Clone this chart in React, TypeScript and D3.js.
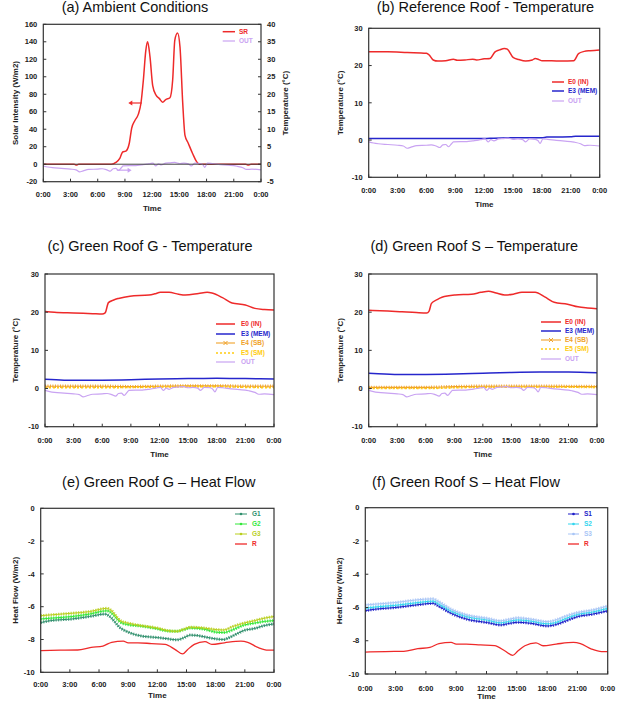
import React from "react";
import * as d3 from "d3";

// ── Data: [hour of day, value] ───────────────────────────────────────────────

type Pt = [number, number];

const TIME_TICKS = [0, 3, 6, 9, 12, 15, 18, 21, 24];
const TIME_LABELS = ["0:00", "3:00", "6:00", "9:00", "12:00", "15:00", "18:00", "21:00", "0:00"];

const SR_TICKS = [-20, 0, 20, 40, 60, 80, 100, 120, 140, 160];
const AMB_T_TICKS = [-5, 0, 5, 10, 15, 20, 25, 30, 35, 40];
const TEMP_TICKS = [-10, 0, 10, 20, 30];
const FLOW_TICKS = [-10, -8, -6, -4, -2, 0];

// solar radiation (W/m2)
const SR: Pt[] = [
  [0, 0], [3.4, 0], [3.65, -1], [3.9, 0], [7.5, 0], [8.0, 2], [8.45, 7], [8.75, 14],
  [9.1, 15], [9.48, 24], [9.74, 41], [10.1, 50], [10.47, 57], [10.77, 70], [11.03, 96],
  [11.3, 130], [11.5, 140], [11.76, 123], [12.06, 90], [12.43, 79], [12.8, 75], [13.16, 71],
  [13.5, 74], [13.96, 76], [14.26, 96], [14.5, 142], [14.8, 150], [15.07, 134], [15.37, 70],
  [15.62, 33], [15.98, 24], [16.47, 12], [16.9, 3], [17.2, 0], [22.3, 0], [22.6, -1],
  [22.9, 0], [24, 0],
];

// outdoor temperature (°C)
const OUT: Pt[] = [
  [0, -0.5], [0.5, -0.8], [1, -1.0], [2, -1.2], [3, -1.4], [3.6, -1.6], [4.0, -2.2],
  [4.4, -1.9], [5, -1.5], [6, -1.4], [6.5, -1.3], [7, -1.6], [7.4, -2.0], [7.7, -1.3],
  [8.0, -1.2], [8.3, -1.8], [8.6, -1.0], [8.8, -0.5], [9.5, -0.4], [10.2, -0.4],
  [10.8, -0.2], [11.4, 0], [11.8, 0.2], [12.1, 0.3], [12.4, -0.5], [12.7, 0.1],
  [13.0, -0.2], [13.5, 0.3], [14, 0.4], [14.5, 0.5], [15, 0.2], [15.5, 0.3], [16, 0.1],
  [16.3, -0.5], [16.7, 0.3], [17.3, 0.2], [17.6, -0.2], [17.8, -0.9], [18.1, 0.3],
  [18.6, 0.2], [19.5, -0.1], [20.4, -0.3], [21.0, -0.4], [21.4, -0.6], [22.0, -1.0],
  [22.4, -1.5], [23, -1.4], [24, -1.6],
];

// reference roof
const REF_E0: Pt[] = [
  [0, 23.7], [2, 23.7], [4, 23.5], [6, 23.3], [6.3, 22.8], [6.7, 21.5], [7.2, 21.2],
  [8, 21.3], [8.8, 21.7], [9.2, 21.4], [10, 21.5], [10.8, 21.7], [11.2, 21.5], [12, 21.8],
  [12.6, 21.9], [13.1, 23.6], [13.6, 24.2], [14.1, 24.6], [14.4, 24.4], [15, 22.2],
  [15.6, 21.6], [16.3, 21.2], [17, 21.5], [17.3, 21.9], [17.7, 21.6], [18, 21.3],
  [19, 21.3], [20, 21.2], [21.3, 21.3], [21.8, 23.2], [22.4, 23.8], [23, 24.0], [24, 24.2],
];
const REF_E3: Pt[] = [
  [0, 0.4], [6, 0.4], [12, 0.4], [13, 0.5], [15, 0.6], [18, 0.6], [18.5, 0.8], [21, 0.9],
  [21.5, 1.0], [24, 1.0],
];

// green roof G
const G_E0: Pt[] = [
  [0, 20.2], [1, 20.0], [3, 19.8], [5, 19.6], [6.0, 19.5], [6.3, 19.8], [6.65, 22.5],
  [7.2, 23.2], [7.7, 23.6], [8.9, 24.2], [10.9, 24.5], [11.5, 24.8], [12.1, 25.2],
  [13.0, 25.2], [14, 24.7], [14.7, 24.5], [16.1, 24.9], [17.0, 25.2], [17.5, 25.0],
  [18.6, 23.8], [19.6, 22.4], [21.0, 21.9], [22, 21.0], [23, 20.7], [24, 20.6],
];
const G_E3: Pt[] = [[0, 2.4], [2, 2.2], [6, 2.2], [9, 2.3], [12, 2.5], [15, 2.6], [18, 2.7], [21, 2.6], [24, 2.5]];
const G_E4: Pt[] = [[0, 0.6], [6, 0.6], [9, 0.5], [12, 0.6], [15, 0.7], [18, 0.7], [21, 0.6], [24, 0.6]];
const G_E5: Pt[] = [[0, 0.2], [6, 0.2], [9, 0.3], [12, 0.4], [15, 0.5], [18, 0.5], [21, 0.3], [24, 0.2]];

// green roof S
const S_E0: Pt[] = [
  [0, 20.5], [2, 20.3], [3.5, 20.1], [5, 19.9], [6.1, 19.8], [6.35, 20.3], [6.6, 22.3],
  [7.2, 23.3], [7.7, 23.9], [9.1, 24.5], [10.8, 24.7], [11.8, 25.2], [12.6, 25.5],
  [13.4, 25.0], [14.3, 24.5], [15.2, 24.7], [16.1, 25.2], [17.5, 25.2], [18.5, 24.0],
  [19.5, 22.6], [20.9, 22.1], [22, 21.4], [23, 21.1], [24, 20.9],
];
const S_E3: Pt[] = [[0, 4.0], [1, 3.9], [3.5, 3.7], [6, 3.7], [9, 3.8], [12, 4.0], [15, 4.2], [18, 4.3], [21, 4.3], [24, 4.1]];
const S_E4: Pt[] = [[0, 0.3], [6, 0.3], [9, 0.5], [12, 0.6], [18, 0.6], [24, 0.5]];
const S_E5: Pt[] = [[0, 0.0], [6, 0.0], [9, 0.2], [12, 0.3], [18, 0.4], [24, 0.3]];

// heat flow (W/m2)
const R_FLOW: Pt[] = [
  [0, -8.68], [2, -8.65], [3.8, -8.64], [5.2, -8.48], [6.4, -8.4], [7.3, -8.17], [8.5, -8.1],
  [9.0, -8.2], [10, -8.2], [11.4, -8.25], [12.8, -8.3], [13.8, -8.6], [14.6, -8.88],
  [15.1, -8.62], [15.8, -8.3], [16.9, -8.13], [17.6, -8.3], [18.9, -8.2], [20.6, -8.1],
  [21.3, -8.17], [22.4, -8.5], [23.4, -8.65], [24, -8.65],
];
const G1: Pt[] = [
  [0, -6.97], [1, -6.85], [3.2, -6.75], [5, -6.6], [6.6, -6.45], [7.0, -6.55], [8.2, -7.3],
  [9.0, -7.55], [10.3, -7.78], [12, -7.88], [13, -7.95], [14, -8.02], [14.7, -7.9],
  [15.4, -7.73], [16.0, -7.75], [16.8, -7.83], [18.1, -7.97], [18.8, -8.0], [19.5, -7.85],
  [20.3, -7.62], [20.9, -7.45], [22, -7.33], [23, -7.15], [24, -7.05],
];
const G2: Pt[] = [
  [0, -6.75], [1, -6.7], [3.2, -6.6], [5, -6.45], [6.8, -6.25], [7.2, -6.35], [8.2, -6.95],
  [9, -7.1], [10.3, -7.18], [12, -7.35], [13, -7.48], [14, -7.5], [14.7, -7.4], [15.4, -7.3],
  [16.8, -7.37], [18.1, -7.56], [18.8, -7.58], [19.8, -7.4], [20.9, -7.12], [22, -7.0],
  [23, -6.9], [24, -6.85],
];
const G3: Pt[] = [
  [0, -6.55], [1, -6.5], [3.2, -6.4], [5, -6.3], [6.8, -6.1], [7.2, -6.2], [8.2, -6.85],
  [9, -7.0], [10.3, -7.15], [12, -7.3], [13, -7.45], [14, -7.5], [14.7, -7.38], [15.4, -7.25],
  [16.8, -7.3], [18.1, -7.4], [18.8, -7.42], [19.8, -7.2], [20.9, -7.0], [22, -6.85],
  [23, -6.7], [24, -6.6],
];
const S1: Pt[] = [
  [0, -6.19], [1, -6.1], [3, -6.0], [5, -5.85], [6.7, -5.75], [7.2, -5.9], [8.5, -6.35],
  [10.1, -6.71], [12.1, -6.91], [13.4, -7.05], [14.3, -6.95], [15.1, -6.89], [16.4, -6.95],
  [18.0, -7.11], [19.0, -7.0], [19.7, -6.85], [21, -6.55], [22.5, -6.4], [24, -6.2],
];
const S2: Pt[] = [
  [0, -6.05], [1, -5.97], [3, -5.87], [5, -5.72], [6.7, -5.62], [7.2, -5.77], [8.5, -6.22],
  [10.1, -6.56], [12.1, -6.76], [13.4, -6.92], [14.3, -6.82], [15.1, -6.75], [16.4, -6.82],
  [18, -6.98], [19, -6.87], [19.7, -6.7], [21, -6.42], [22.5, -6.27], [24, -6.05],
];
const S3: Pt[] = [
  [0, -5.85], [1, -5.8], [3, -5.7], [5, -5.55], [6.7, -5.48], [7.2, -5.62], [8.5, -6.1],
  [10.1, -6.45], [12.1, -6.65], [13.4, -6.8], [14.3, -6.7], [15.1, -6.62], [16.4, -6.7],
  [18, -6.85], [19, -6.72], [19.7, -6.55], [21, -6.3], [22.5, -6.15], [24, -5.9],
];

// ── Styles ────────────────────────────────────────────────────────────────────

const FONT = "'Liberation Sans', Arial, sans-serif";
const C = {
  red: "#ee2a2a",
  blue: "#2626cc",
  out: "#c9a3f2",
  orange: "#f0a22a",
  yellow: "#ffcc10",
  g1: "#2f8f6c",
  g2: "#33e83a",
  g3: "#b9cf1e",
  s1: "#1c1cc8",
  s2: "#33d6ee",
  s3: "#a9c6f6",
  frame: "#333",
};

type Marker = "none" | "x" | "dot";

interface SeriesDef {
  label: string;
  data: Pt[];
  color: string;
  width?: number;
  dash?: string;
  marker?: Marker;
  right?: boolean;
}

interface Box { l: number; r: number; t: number; b: number }

interface PanelProps {
  title: string;
  titleX: number;
  titleY: number;
  box: Box;
  yDomain: [number, number];
  yTicks: number[];
  yLabel: string;
  yLabelX: number;
  tickDy: number;
  timeDy: number;
  series: SeriesDef[];
  legend: { x0: number; x1: number; tx: number; ys: number[] };
  rightAxis?: { domain: [number, number]; ticks: number[]; label: string; labelX: number };
  extra?: (x: d3.ScaleLinear<number, number>, y: d3.ScaleLinear<number, number>, y2?: d3.ScaleLinear<number, number>) => React.ReactNode;
}

function Panel(p: PanelProps) {
  const { box } = p;
  const x = d3.scaleLinear().domain([0, 24]).range([box.l, box.r]);
  const y = d3.scaleLinear().domain(p.yDomain).range([box.b, box.t]);
  const y2 = p.rightAxis
    ? d3.scaleLinear().domain(p.rightAxis.domain).range([box.b, box.t])
    : undefined;
  const midY = (box.t + box.b) / 2;
  const tick = 3;

  const pathFor = (s: SeriesDef) => {
    const sy = s.right && y2 ? y2 : y;
    return d3
      .line<Pt>()
      .x((d) => x(d[0]))
      .y((d) => sy(d[1]))
      .curve(d3.curveMonotoneX)(s.data) ?? "";
  };

  return (
    <g>
      <text x={p.titleX} y={p.titleY} textAnchor="middle" fontSize={14.5} fill="#111">
        {p.title}
      </text>

      {/* series */}
      {p.series.map((s) => {
        const d = pathFor(s);
        return (
          <g key={s.label}>
            <path d={d} fill="none" stroke={s.color} strokeWidth={s.width ?? 1.3}
              strokeDasharray={s.dash} strokeLinejoin="round" />
            {s.marker === "dot" && (
              <path d={d} fill="none" stroke={s.color} strokeWidth={3} strokeDasharray="1.2 1.3" opacity={0.85} />
            )}
            {s.marker === "x" && (
              <path d={d} fill="none" stroke={s.color} strokeWidth={3.4} strokeDasharray="0.9 1.6" />
            )}
          </g>
        );
      })}

      {p.extra && p.extra(x, y, y2)}

      {/* frame */}
      <rect x={box.l} y={box.t} width={box.r - box.l} height={box.b - box.t}
        fill="none" stroke={C.frame} strokeWidth={1.2} />

      {/* x axis */}
      {TIME_TICKS.map((t, i) => (
        <g key={`xt${i}`}>
          <line x1={x(t)} x2={x(t)} y1={box.b} y2={box.b - tick} stroke={C.frame} />
          <text x={x(t)} y={box.b + p.tickDy} textAnchor="middle" fontSize={7.5} fontWeight="bold" fill="#222">
            {TIME_LABELS[i]}
          </text>
        </g>
      ))}
      <text x={(box.l + box.r) / 2} y={box.b + p.timeDy} textAnchor="middle" fontSize={8} fontWeight="bold" fill="#222">
        Time
      </text>

      {/* y axis */}
      {p.yTicks.map((t) => (
        <g key={`yt${t}`}>
          <line x1={box.l} x2={box.l + tick} y1={y(t)} y2={y(t)} stroke={C.frame} />
          <text x={box.l - 6} y={y(t) + 2.7} textAnchor="end" fontSize={7.5} fontWeight="bold" fill="#222">
            {t}
          </text>
        </g>
      ))}
      <text transform={`translate(${p.yLabelX},${midY}) rotate(-90)`} textAnchor="middle"
        dominantBaseline="middle" fontSize={8} fontWeight="bold" fill="#222">
        {p.yLabel}
      </text>

      {p.rightAxis && y2 && (
        <g>
          {p.rightAxis.ticks.map((t) => (
            <g key={`rt${t}`}>
              <line x1={box.r} x2={box.r - tick} y1={y2(t)} y2={y2(t)} stroke={C.frame} />
              <text x={box.r + 6} y={y2(t) + 2.7} fontSize={7.5} fontWeight="bold" fill="#222">
                {t}
              </text>
            </g>
          ))}
          <text transform={`translate(${p.rightAxis.labelX},${midY}) rotate(-90)`} textAnchor="middle"
            dominantBaseline="middle" fontSize={8} fontWeight="bold" fill="#222">
            {p.rightAxis.label}
          </text>
        </g>
      )}

      {/* legend */}
      {p.series.map((s, i) => {
        const ly = p.legend.ys[i];
        const { x0, x1, tx } = p.legend;
        const mx = (x0 + x1) / 2;
        return (
          <g key={`lg${s.label}`}>
            <line x1={x0} x2={x1} y1={ly} y2={ly} stroke={s.color} strokeWidth={s.width ?? 1.3}
              strokeDasharray={s.dash} />
            {s.marker === "x" && (
              <path d={`M${mx - 2},${ly - 2}L${mx + 2},${ly + 2}M${mx - 2},${ly + 2}L${mx + 2},${ly - 2}`}
                stroke={s.color} strokeWidth={1} />
            )}
            {s.marker === "dot" && <circle cx={mx} cy={ly} r={1.3} fill={s.color} />}
            <text x={tx} y={ly + 2.3} fontSize={6.5} fontWeight="bold" fill={s.color}>
              {s.label}
            </text>
          </g>
        );
      })}
    </g>
  );
}

// ── App ───────────────────────────────────────────────────────────────────────

export default function App() {
  return (
    <svg width={622} height={707} style={{ position: "absolute", left: 0, top: 0, background: "#fff" }}
      fontFamily={FONT}>
      <Panel
        title="(a) Ambient Conditions" titleX={135} titleY={12}
        box={{ l: 43.3, r: 261, t: 24.3, b: 181.7 }}
        yDomain={[-20, 160]} yTicks={SR_TICKS}
        yLabel="Solar Intensity (W/m2)" yLabelX={16}
        tickDy={15} timeDy={29}
        rightAxis={{ domain: [-5, 40], ticks: AMB_T_TICKS, label: "Temperature (°C)", labelX: 286 }}
        series={[
          { label: "SR", data: SR, color: C.red, width: 1.5 },
          { label: "OUT", data: OUT, color: C.out, width: 1.2, right: true },
        ]}
        legend={{ x0: 222.7, x1: 235, tx: 239, ys: [31.7, 41] }}
        extra={(x, y, y2) => (
          <g>
            <line x1={x(0)} x2={x(24)} y1={y(0)} y2={y(0)} stroke="#444" strokeWidth={1} />
            <line x1={x(10.85)} x2={x(9.6)} y1={y(70)} y2={y(70)} stroke={C.red} strokeWidth={1.2} />
            <path d={`M${x(9.37)},${y(70)}l4,-2.5l0,5z`} fill={C.red} />
            {y2 && (
              <g>
                <line x1={x(8.1)} x2={x(9.5)} y1={y2(-1.7)} y2={y2(-1.7)} stroke={C.out} strokeWidth={1.2} />
                <path d={`M${x(9.74)},${y2(-1.7)}l-4,-2.5l0,5z`} fill={C.out} />
              </g>
            )}
          </g>
        )}
      />
      <Panel
        title="(b) Reference Roof - Temperature" titleX={485.5} titleY={12}
        box={{ l: 368.7, r: 599.7, t: 28.3, b: 177.3 }}
        yDomain={[-10, 30]} yTicks={TEMP_TICKS}
        yLabel="Temperature (°C)" yLabelX={341}
        tickDy={16} timeDy={29.7}
        series={[
          { label: "E0 (IN)", data: REF_E0, color: C.red, width: 1.5 },
          { label: "E3 (MEM)", data: REF_E3, color: C.blue, width: 1.5 },
          { label: "OUT", data: OUT, color: C.out, width: 1.2 },
        ]}
        legend={{ x0: 552, x1: 564, tx: 568, ys: [82, 91, 101] }}
      />
      <Panel
        title="(c) Green Roof G - Temperature" titleX={150} titleY={250.7}
        box={{ l: 45, r: 274, t: 274, b: 426.7 }}
        yDomain={[-10, 30]} yTicks={TEMP_TICKS}
        yLabel="Temperature (°C)" yLabelX={16}
        tickDy={16} timeDy={30}
        series={[
          { label: "E0 (IN)", data: G_E0, color: C.red, width: 1.5 },
          { label: "E3 (MEM)", data: G_E3, color: C.blue, width: 1.5 },
          { label: "E4 (SB)", data: G_E4, color: C.orange, width: 1.1, marker: "x" },
          { label: "E5 (SM)", data: G_E5, color: C.yellow, width: 1.6, dash: "2 2" },
          { label: "OUT", data: OUT, color: C.out, width: 1.2 },
        ]}
        legend={{ x0: 216, x1: 235, tx: 241, ys: [324, 334, 343, 353, 362] }}
      />
      <Panel
        title="(d) Green Roof S – Temperature" titleX={474.3} titleY={250.7}
        box={{ l: 368.7, r: 597, t: 274, b: 426.7 }}
        yDomain={[-10, 30]} yTicks={TEMP_TICKS}
        yLabel="Temperature (°C)" yLabelX={341}
        tickDy={16} timeDy={30}
        series={[
          { label: "E0 (IN)", data: S_E0, color: C.red, width: 1.5 },
          { label: "E3 (MEM)", data: S_E3, color: C.blue, width: 1.5 },
          { label: "E4 (SB)", data: S_E4, color: C.orange, width: 1.1, marker: "x" },
          { label: "E5 (SM)", data: S_E5, color: C.yellow, width: 1.6, dash: "2 2" },
          { label: "OUT", data: OUT, color: C.out, width: 1.2 },
        ]}
        legend={{ x0: 541, x1: 561, tx: 565, ys: [322, 331, 340, 349, 359] }}
      />
      <Panel
        title="(e) Green Roof G – Heat Flow" titleX={158.8} titleY={487.3}
        box={{ l: 40.7, r: 274, t: 508.3, b: 672.3 }}
        yDomain={[-10, 0]} yTicks={FLOW_TICKS}
        yLabel="Heat Flow (W/m2)" yLabelX={16}
        tickDy={15} timeDy={26}
        series={[
          { label: "G1", data: G1, color: C.g1, width: 1, marker: "dot" },
          { label: "G2", data: G2, color: C.g2, width: 1, marker: "dot" },
          { label: "G3", data: G3, color: C.g3, width: 1, marker: "dot" },
          { label: "R", data: R_FLOW, color: C.red, width: 1.3 },
        ]}
        legend={{ x0: 235, x1: 247, tx: 252, ys: [514, 524, 534, 544] }}
      />
      <Panel
        title="(f) Green Roof S – Heat Flow" titleX={466} titleY={487.3}
        box={{ l: 365.3, r: 607.7, t: 507.7, b: 674 }}
        yDomain={[-10, 0]} yTicks={FLOW_TICKS}
        yLabel="Heat Flow (W/m2)" yLabelX={340}
        tickDy={16.7} timeDy={25.3}
        series={[
          { label: "S1", data: S1, color: C.s1, width: 1, marker: "dot" },
          { label: "S2", data: S2, color: C.s2, width: 1, marker: "dot" },
          { label: "S3", data: S3, color: C.s3, width: 1, marker: "dot" },
          { label: "R", data: R_FLOW, color: C.red, width: 1.3 },
        ]}
        legend={{ x0: 568, x1: 579, tx: 584, ys: [514, 524, 534, 544] }}
      />
    </svg>
  );
}
